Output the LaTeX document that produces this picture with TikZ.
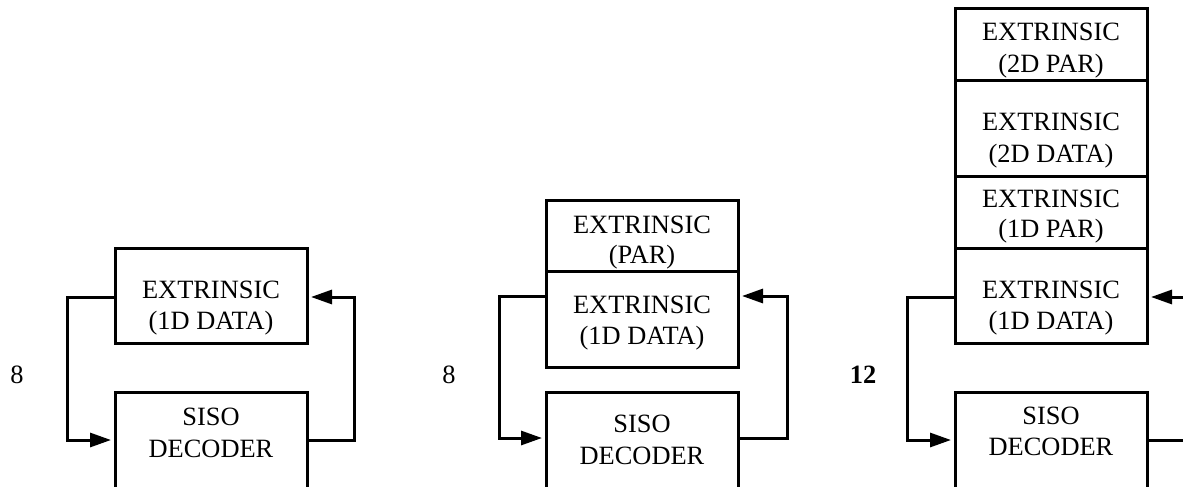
\documentclass[tikz,border=0pt]{standalone}
\usepackage{fontspec}
\setmainfont{Liberation Serif}
\usetikzlibrary{arrows.meta}
\begin{document}
\begin{tikzpicture}[x=0.5pt,y=-0.5pt,line width=1.5pt,
  box/.style={draw, rectangle, inner sep=0pt, outer sep=0pt, minimum width=96pt, anchor=north west},
  txt/.style={anchor=base, inner sep=0pt, font=\fontsize{13.2pt}{15pt}\selectfont},
  conn/.style={line join=miter},
  arr/.style={conn, -{Triangle[length=10.5pt,width=7pt]}, shorten >=2pt}]
\useasboundingbox (0,0) rectangle (1183,487);
\clip (0,0) rectangle (1183,487);
% ---------- panel 1 ----------
\node[box, minimum height=47.5pt] (e1) at (115,248) {};
\node[box, minimum height=64pt] (s1) at (115,392) {};
\node[txt] (e1a) at (211,298) {EXTRINSIC};
\node[txt] (e1b) at (211,329) {(1D DATA)};
\node[txt] (s1a) at (211,425) {SISO};
\node[txt] (s1b) at (211,457) {DECODER};
\node[txt] (n1) at (17,383) {8};
\draw[arr] ([yshift=-24.5pt]e1.north west) -- ++(-48,0) |- ([yshift=-24pt]s1.north west);
\draw[arr] ([yshift=-24pt]s1.north east) -- ++(47,0) |- ([yshift=-24.5pt]e1.north east);
% ---------- panel 2 ----------
\node[box, minimum height=35.5pt] (p2) at (546,200) {};
\node[box, minimum height=48pt] (e2) at (546,271) {};
\node[box, minimum height=64pt] (s2) at (546,392) {};
\node[txt] (p2a) at (642,233) {EXTRINSIC};
\node[txt] (p2b) at (642,263) {(PAR)};
\node[txt] (e2a) at (642,313) {EXTRINSIC};
\node[txt] (e2b) at (642,344) {(1D DATA)};
\node[txt] (s2a) at (642,432) {SISO};
\node[txt] (s2b) at (642,464) {DECODER};
\node[txt] (n2) at (449,383) {8};
\draw[arr] ([yshift=-12.5pt]e2.north west) -- ++(-47,0) |- ([yshift=-23pt]s2.north west);
\draw[arr] ([yshift=-23pt]s2.north east) -- ++(49,0) |- ([yshift=-12.5pt]e2.north east);
% ---------- panel 3 ----------
\node[box, minimum height=36pt] (e31) at (955,8) {};
\node[box, minimum height=48pt] (e32) at (955,80) {};
\node[box, minimum height=36pt] (e33) at (955,176) {};
\node[box, minimum height=47.5pt] (e34) at (955,248) {};
\node[box, minimum height=64pt] (s3) at (955,392) {};
\node[txt] (e31a) at (1051,40) {EXTRINSIC};
\node[txt] (e31b) at (1051,72) {(2D PAR)};
\node[txt] (e32a) at (1051,130) {EXTRINSIC};
\node[txt] (e32b) at (1051,162) {(2D DATA)};
\node[txt] (e33a) at (1051,207) {EXTRINSIC};
\node[txt] (e33b) at (1051,237) {(1D PAR)};
\node[txt] (e34a) at (1051,298) {EXTRINSIC};
\node[txt] (e34b) at (1051,329) {(1D DATA)};
\node[txt] (s3a) at (1051,424) {SISO};
\node[txt] (s3b) at (1051,455) {DECODER};
\node[txt, font=\fontsize{13.2pt}{15pt}\selectfont\bfseries] (n3) at (863,383) {12};
\draw[arr] ([yshift=-24.5pt]e34.north west) -- ++(-48,0) |- ([yshift=-24pt]s3.north west);
\draw[arr] ([yshift=-24pt]s3.north east) -- ++(60,0) |- ([yshift=-24.5pt]e34.north east);
\end{tikzpicture}
\end{document}
